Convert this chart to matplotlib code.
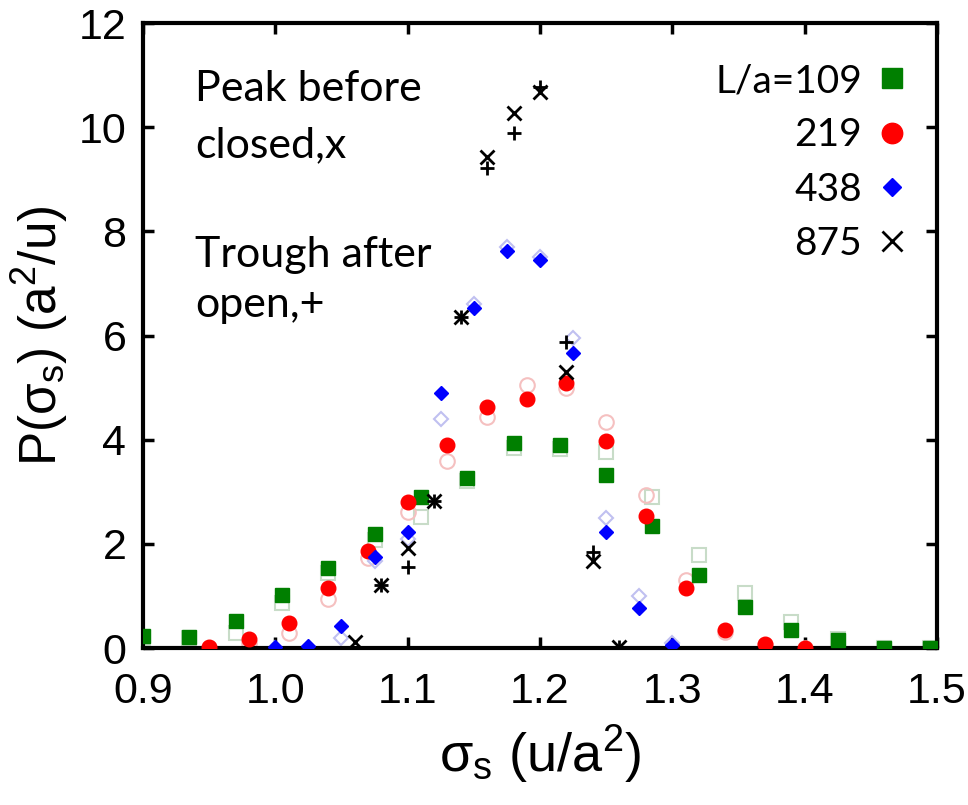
import matplotlib
matplotlib.use("Agg")
import matplotlib.pyplot as plt

# L/a = 109 (green squares)
x109 = [0.900, 0.935, 0.970, 1.005, 1.040, 1.075, 1.110, 1.145, 1.180, 1.215,
        1.250, 1.285, 1.320, 1.355, 1.390, 1.425, 1.460, 1.495]
y109 = [0.23, 0.21, 0.52, 1.02, 1.54, 2.19, 2.90, 3.26, 3.93, 3.90,
        3.33, 2.34, 1.40, 0.79, 0.35, 0.15, 0.00, 0.00]
y109_open = [0.20, 0.20, 0.29, 0.86, 1.44, 2.07, 2.52, 3.20, 3.85, 3.83,
             3.76, 2.90, 1.79, 1.06, 0.50, 0.18, 0.00, 0.00]

# L/a = 219 (red circles)
x219 = [0.95, 0.98, 1.01, 1.04, 1.07, 1.10, 1.13, 1.16, 1.19, 1.22,
        1.25, 1.28, 1.31, 1.34, 1.37, 1.40]
y219 = [0.02, 0.17, 0.48, 1.15, 1.86, 2.80, 3.90, 4.62, 4.78, 5.09,
        3.97, 2.54, 1.16, 0.35, 0.08, 0.00]
y219_open = [0.00, 0.10, 0.28, 0.95, 1.72, 2.62, 3.60, 4.43, 5.05, 5.00,
             4.34, 2.94, 1.30, 0.30, 0.05, 0.00]

# L/a = 438 (blue diamonds)
x438 = [1.000, 1.025, 1.050, 1.075, 1.100, 1.125, 1.150, 1.175, 1.200, 1.225,
        1.250, 1.275, 1.300]
y438 = [0.02, 0.04, 0.42, 1.75, 2.23, 4.90, 6.52, 7.62, 7.45, 5.66,
        2.23, 0.77, 0.06]
y438_open = [0.00, 0.00, 0.19, 1.68, 2.10, 4.40, 6.60, 7.70, 7.50, 5.95,
             2.50, 1.00, 0.10]

# L/a = 875: peak before closed (x) and trough after open (+)
x875_peak = [1.06, 1.08, 1.10, 1.12, 1.14, 1.16, 1.18, 1.20, 1.22, 1.24, 1.26]
y875_peak = [0.12, 1.21, 1.92, 2.82, 6.36, 9.43, 10.27, 10.67, 5.30, 1.68, 0.02]
x875_trough = [1.08, 1.10, 1.12, 1.14, 1.16, 1.18, 1.20, 1.22, 1.24, 1.26]
y875_trough = [1.21, 1.56, 2.82, 6.36, 9.22, 9.89, 10.77, 5.88, 1.85, 0.02]

xticks = [0.9, 1.0, 1.1, 1.2, 1.3, 1.4, 1.5]
yticks = [0, 2, 4, 6, 8, 10, 12]

plt.rcParams["font.family"] = ["Liberation Sans", "DejaVu Sans"]
plt.rcParams["mathtext.fontset"] = "custom"
plt.rcParams["mathtext.rm"] = "Liberation Sans"
plt.rcParams["mathtext.it"] = "Liberation Sans:italic"

fig = plt.figure(figsize=(9.68, 8.05), dpi=100)
ax = fig.add_axes([0.1477, 0.195, 0.8203, 0.7764])

green, red, blue = "#007f00", "#ff0000", "#0000ff"

# faded open markers underneath
ax.plot(x109, y109_open, ls="none", marker="s", ms=10.5, mfc="none",
        mec="#c8dcc8", mew=1.5, zorder=2)
ax.plot(x219, y219_open, ls="none", marker="o", ms=10.5, mfc="none",
        mec="#f5c0c0", mew=1.5, zorder=2)
ax.plot(x438, y438_open, ls="none", marker="D", ms=6.8, mfc="none",
        mec="#c0c0f0", mew=1.5, zorder=2)

ax.plot(x109, y109, ls="none", marker="s", ms=10.5, color=green,
        label="L/a=109", zorder=3)
ax.plot(x219, y219, ls="none", marker="o", ms=10.5, color=red,
        label="219", zorder=3)
ax.plot(x438, y438, ls="none", marker="D", ms=6.8, color=blue,
        label="438", zorder=3)
ax.plot(x875_peak, y875_peak, ls="none", marker="x", ms=10, mew=2,
        color="black", label="875", zorder=4)
ax.plot(x875_trough, y875_trough, ls="none", marker="+", ms=10, mew=2,
        color="black", zorder=4)

ax.set_xlim(0.9, 1.5)
ax.set_ylim(0, 12)
ax.set_xticks(xticks)
ax.set_xticklabels([f"{t:.1f}" for t in xticks])
ax.set_yticks(yticks)
ax.tick_params(direction="in", length=8, width=2.5, top=True, right=True,
               labelsize=31)
ax.tick_params(axis="x", pad=17)
ax.tick_params(axis="y", pad=12)
for s in ax.spines.values():
    s.set_linewidth(3)

ax.set_xlabel("σ$_\\mathrm{s}$ (u/a$^\\mathrm{2}$)", fontsize=39, labelpad=8)
ax.set_ylabel("P(σ$_\\mathrm{s}$) (a$^\\mathrm{2}$/u)", fontsize=37, labelpad=6)

# annotation lines, placed by baseline (axes fraction)
txt_font = ["Lato", "DejaVu Sans"]
notes = ["Peak before", "closed,x", "Trough after", "open,+"]
note_base = [0.875, 0.7856, 0.6096, 0.529]
for s, yb in zip(notes, note_base):
    ax.text(0.066, yb, s, transform=ax.transAxes, fontsize=31,
            family=txt_font, va="baseline", ha="left")

leg = ax.legend(loc="upper right", bbox_to_anchor=(0.968, 0.936),
                frameon=False, markerfirst=False, handlelength=1.0,
                handletextpad=0.27, labelspacing=0.47, borderaxespad=0,
                borderpad=0, markerscale=1.4,
                prop={"family": txt_font, "size": 28})

fig.savefig("out.png", dpi=100)
